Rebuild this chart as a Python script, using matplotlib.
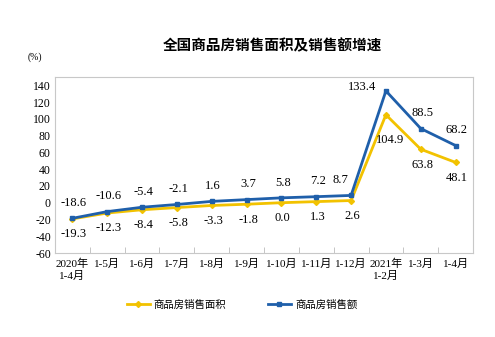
import numpy as np
import matplotlib.pyplot as plt

plt.rcParams['font.family'] = ['Liberation Serif', 'Noto Sans CJK SC']
plt.rcParams['axes.unicode_minus'] = False

categories = ["2020年\n1-4月", "1-5月", "1-6月", "1-7月", "1-8月", "1-9月",
              "1-10月", "1-11月", "1-12月", "2021年\n1-2月", "1-3月", "1-4月"]
area = [-19.3, -12.3, -8.4, -5.8, -3.3, -1.8, 0.0, 1.3, 2.6, 104.9, 63.8, 48.1]
amount = [-18.6, -10.6, -5.4, -2.1, 1.6, 3.7, 5.8, 7.2, 8.7, 133.4, 88.5, 68.2]

yellow = '#F2C200'
blue = '#1F5FAA'

fig = plt.figure(figsize=(4.95, 3.37), dpi=100)
ax = fig.add_axes([55/495, 1-253/337, 418/495, 176/337])

x = np.arange(len(categories))
ax.plot(x, area, color=yellow, lw=2, marker='D', ms=3, label='商品房销售面积')
ax.plot(x, amount, color=blue, lw=2, marker='s', ms=3, label='商品房销售额')

# value labels
for i in range(len(x)):
    if i == 9:
        ax.annotate(f"{amount[i]:.1f}", (x[i], amount[i]), xytext=(-17, 3),
                    textcoords='offset points', ha='center', va='center', fontsize=9)
        ax.annotate(f"{area[i]:.1f}", (x[i], area[i]), xytext=(3, -18),
                    textcoords='offset points', ha='center', va='center', fontsize=9)
    else:
        dx = -8 if i == 8 else 1
        ax.annotate(f"{amount[i]:.1f}", (x[i], amount[i]), xytext=(dx, 11),
                    textcoords='offset points', ha='center', va='center', fontsize=9)
        ax.annotate(f"{area[i]:.1f}", (x[i], area[i]), xytext=(1, -11),
                    textcoords='offset points', ha='center', va='center', fontsize=9)

ax.set_xlim(-0.5, len(x) - 0.5)
ax.set_ylim(-60, 150)
ax.set_yticks(np.arange(-60, 141, 20))
ax.set_xticks(x)
ax.set_xticklabels(categories, fontsize=8, linespacing=1.3)
ax.set_xticks(np.arange(0.5, len(x) - 1, 1), minor=True)
ax.tick_params(axis='x', which='major', length=0, pad=4)
ax.tick_params(axis='x', which='minor', length=4, direction='in', color='#bbbbbb')
ax.tick_params(axis='y', length=0, labelsize=8.5, pad=3)
for s in ax.spines.values():
    s.set_color('#c8c8c8')
    s.set_linewidth(0.8)

fig.text(272/495, 1-45/337, '全国商品房销售面积及销售额增速', ha='center', va='center',
         fontsize=10.5, fontweight='bold', family=['Noto Sans CJK SC'])
fig.text(35/495, 1-57/337, '(%)', ha='center', va='center', fontsize=7)

fig.legend(loc='center', bbox_to_anchor=(242/495, 1-305/337), ncol=2, frameon=False,
           fontsize=7.5, columnspacing=4, handlelength=2.2, handletextpad=0.4)

fig.savefig('out.png', dpi=100)
